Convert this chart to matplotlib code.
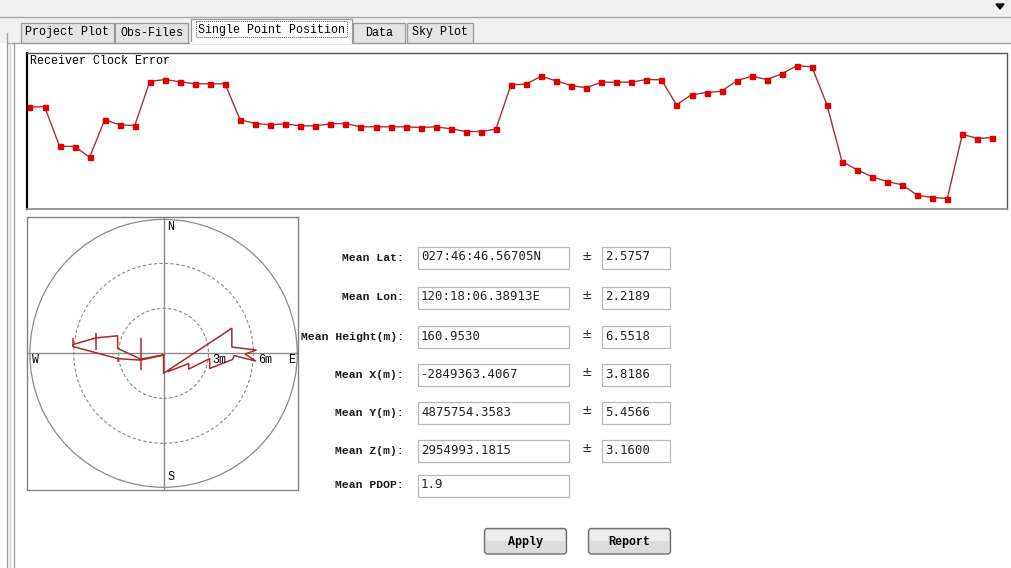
import matplotlib
matplotlib.use("Agg")
import matplotlib.pyplot as plt
from matplotlib.patches import Rectangle, FancyBboxPatch, Circle, Polygon
import numpy as np

# receiver clock error per epoch (relative units)
clock_err = [101.3, 102.0, 62.3, 62.0, 51.3, 88.7, 83.7, 83.0, 127.0, 129.0,
             126.7, 124.7, 124.7, 124.7, 88.7, 85.0, 83.7, 84.7, 82.7, 82.7,
             84.7, 85.0, 81.7, 81.7, 81.7, 81.7, 81.0, 81.7, 79.7, 77.0,
             77.0, 79.3, 123.7, 124.3, 132.3, 127.7, 123.0, 120.7, 126.3, 126.3,
             126.3, 129.0, 128.7, 103.7, 113.7, 116.0, 117.3, 127.7, 132.3, 129.0,
             134.7, 142.7, 141.7, 103.7, 47.0, 38.7, 31.7, 27.0, 23.7, 13.3,
             11.0, 10.0, 74.3, 70.0, 71.0]
epochs = np.arange(len(clock_err))

# position track, metres east / north of the mean position
track_e = [0.31, 1.68, 1.68, 3.08, 3.08, 4.61, 4.71, 6.15, 5.45, 6.18,
           4.56, 4.56, 0.00, 0.00, -1.53, -3.07, -3.07, -4.53, -6.04, -6.04,
           -3.07, -1.53, 0.00]
track_n = [-1.21, -0.68, -1.05, -0.35, -1.01, -0.41, -0.15, -0.51, -0.05, 0.22,
           0.42, 1.67, -1.33, -0.11, -0.38, 0.33, 1.17, 1.03, 0.59, 0.45,
           -0.35, -0.45, -0.11]
# short vertical ticks along the track
tick_e = [-6.04, -4.53, -3.07, -1.53]
tick_n0 = [0.42, 0.22, -0.23, -1.11]
tick_n1 = [1.02, 1.33, -0.56, 1.02]

ring_radii = [3, 6]
outer_radius = 8.93

tab_names = ["Project Plot", "Obs-Files", "Single Point Position", "Data", "Sky Plot"]
field_labels = ["Mean Lat:", "Mean Lon:", "Mean Height(m):", "Mean X(m):",
                "Mean Y(m):", "Mean Z(m):", "Mean PDOP:"]
field_values = ["027:46:46.56705N", "120:18:06.38913E", "160.9530", "-2849363.4067",
                "4875754.3583", "2954993.1815", "1.9"]
field_sigmas = ["2.5757", "2.2189", "6.5518", "3.8186", "5.4566", "3.1600", None]
button_names = ["Apply", "Report"]

W, H = 1012, 568
LBL = "Liberation Mono"
fig = plt.figure(figsize=(W / 100, H / 100), dpi=100)
fig.patch.set_facecolor("white")

bg = fig.add_axes([0, 0, 1, 1])
bg.set_xlim(0, W)
bg.set_ylim(H, 0)
bg.axis("off")


def px_axes(x0, y0, x1, y1):
    return fig.add_axes([x0 / W, 1 - y1 / H, (x1 - x0) / W, (y1 - y0) / H])


# window chrome
bg.add_patch(Rectangle((0, 0), W, 42.5, color="#f0f0f0", lw=0))
bg.plot([0, W], [16.5, 16.5], color="#a8a8a8", lw=1)
bg.plot([7, W], [42.5, 42.5], color="#a0a0a0", lw=1)
bg.add_patch(Polygon([(996, 4), (1004, 4), (1000, 9)], color="black"))
bg.plot([7, 7], [33, H], color="#a0a0a0", lw=1)
bg.plot([10, 10], [42.5, H], color="#d0d0d0", lw=1)
bg.plot([14, 14], [42.5, H], color="#a0a0a0", lw=1)

# tabs
tab_x = [(21, 114), (115, 188), (191, 352), (353, 405), (407, 473)]
for i, (name, (x0, x1)) in enumerate(zip(tab_names, tab_x)):
    sel = name == "Single Point Position"
    top = 19 if sel else 23
    bottom = 43 if sel else 42.5
    bg.add_patch(Rectangle((x0, top), x1 - x0, bottom - top,
                           fc="white" if sel else "#e4e4e4",
                           ec="#9a9a9a", lw=0.9))
    if sel:
        bg.plot([x0 + 0.5, x1 - 0.5], [43, 43], color="white", lw=1.5)
        bg.add_patch(Rectangle((x0 + 5, 21), x1 - x0 - 10, 16, fill=False,
                               ec="#555555", lw=0.7, ls=(0, (1, 1))))
    bg.text((x0 + x1) / 2, 32.5 if not sel else 30.5, name, ha="center",
            va="center", fontsize=8.4, family=LBL, color="black")

# receiver clock error strip
ax = px_axes(27.5, 52.5, 1007.5, 208.5)
ax.set_facecolor("none")
ax.plot(epochs, clock_err, color="#a83030", lw=1, marker="s", ms=3.6,
        mfc="#e00000", mec="#e00000")
ax.set_xlim(-0.13, 65.0)
ax.set_ylim(0, 156)
ax.set_xticks([])
ax.set_yticks([])
ax.spines["left"].set(color="black", lw=1.6)
ax.spines["bottom"].set(color="#909090", lw=1.3)
for s in ("top", "right"):
    ax.spines[s].set(color="#555555", lw=1, ls=(0, (1, 1)))
bg.text(30, 60.5, "Receiver Clock Error", ha="left", va="center",
        fontsize=8.4, family=LBL, color="black")

# horizontal position scatter (E/N in metres)
pa = px_axes(27.5, 217, 298, 490)
pa.set_facecolor("none")
pa.set_xlim(-9.09, 8.98)
pa.set_ylim(-9.11, 9.09)
pa.set_xticks([])
pa.set_yticks([])
for s in pa.spines.values():
    s.set(color="#808080", lw=1)
pa.add_patch(Circle((0, 0), outer_radius, fill=False, ec="#8a8a8a", lw=0.9))
for r in ring_radii:
    pa.add_patch(Circle((0, 0), r, fill=False, ec="#8a8a8a", lw=0.8,
                        ls=(0, (3, 2))))
pa.axhline(0, color="#8a8a8a", lw=1)
pa.axvline(0, color="#8a8a8a", lw=1)
pa.plot(track_e, track_n, color="#b02828", lw=1.1)
pa.vlines(tick_e, tick_n0, tick_n1, color="#b02828", lw=1.1)
for txt, x, y in [("N", 0.5, 8.45), ("S", 0.5, -8.25), ("W", -8.55, -0.45),
                  ("E", 8.55, -0.45), ("3m", 3.75, -0.47), ("6m", 6.8, -0.47)]:
    pa.text(x, y, txt, ha="center", va="center", fontsize=8.4, family=LBL,
            color="black")

# result fields
row_y = [258, 297.5, 337, 375, 413, 451, 485.5]
for lab, val, sig, y in zip(field_labels, field_values, field_sigmas, row_y):
    bg.text(404, y, lab, ha="right", va="center", fontsize=8.2, family=LBL,
            fontweight="bold", color="#1a1a1a")
    bg.add_patch(Rectangle((418, y - 11), 151, 22, fc="white", ec="#b8b8b8",
                           lw=0.9))
    bg.text(421, y - 1, val, ha="left", va="center", fontsize=8.9,
            family="DejaVu Sans Mono", color="#222222")
    if sig is not None:
        bg.text(587, y - 2, "\u00b1", ha="center", va="center", fontsize=9,
                color="#222222")
        bg.add_patch(Rectangle((602, y - 11), 68, 22, fc="white", ec="#b8b8b8",
                               lw=0.9))
        bg.text(605, y - 1, sig, ha="left", va="center", fontsize=8.9,
                family="DejaVu Sans Mono", color="#222222")

# buttons
for name, x0 in zip(button_names, [484.5, 588.5]):
    bg.add_patch(FancyBboxPatch((x0, 528.5), 82, 25.5,
                                boxstyle="round,pad=0,rounding_size=3",
                                fc="#dcdcdc", ec="#707070", lw=1))
    bg.add_patch(Rectangle((x0 + 1.5, 530), 79, 11, fc="#ececec", lw=0))
    bg.text(x0 + 41, 542, name, ha="center", va="center", fontsize=8.4,
            family=LBL, fontweight="bold", color="black")

fig.savefig("out.png", dpi=100)
